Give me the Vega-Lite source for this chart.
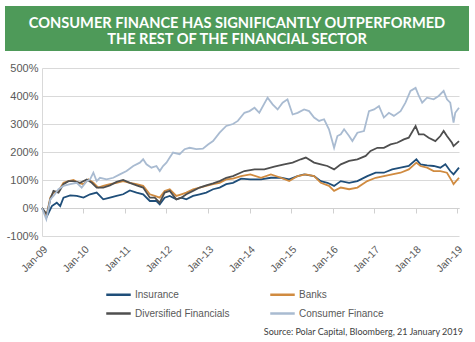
{
  "$schema": "https://vega.github.io/schema/vega-lite/v6.json",
  "background": "white",
  "padding": {"left": 5, "top": 6, "right": 6, "bottom": 2},
  "config": {
    "view": {"stroke": null},
    "font": "Liberation Sans"
  },
  "spacing": 11,
  "datasets": {
    "banner": [
      {"line": 1, "text": "CONSUMER FINANCE HAS SIGNIFICANTLY OUTPERFORMED"},
      {"line": 2, "text": "THE REST OF THE FINANCIAL SECTOR"}
    ],
    "series": [
      {"date": "2009-01-01", "series": "Insurance", "value": 0},
      {"date": "2009-02-14", "series": "Insurance", "value": -29},
      {"date": "2009-03-29", "series": "Insurance", "value": 7},
      {"date": "2009-05-11", "series": "Insurance", "value": 19},
      {"date": "2009-06-10", "series": "Insurance", "value": 7},
      {"date": "2009-07-09", "series": "Insurance", "value": 37},
      {"date": "2009-09-06", "series": "Insurance", "value": 45},
      {"date": "2009-11-03", "series": "Insurance", "value": 43},
      {"date": "2010-01-01", "series": "Insurance", "value": 37},
      {"date": "2010-02-28", "series": "Insurance", "value": 49},
      {"date": "2010-04-27", "series": "Insurance", "value": 55},
      {"date": "2010-06-24", "series": "Insurance", "value": 31},
      {"date": "2010-08-22", "series": "Insurance", "value": 37},
      {"date": "2010-10-19", "series": "Insurance", "value": 43},
      {"date": "2010-12-16", "series": "Insurance", "value": 49},
      {"date": "2011-02-13", "series": "Insurance", "value": 63},
      {"date": "2011-04-13", "series": "Insurance", "value": 55},
      {"date": "2011-06-10", "series": "Insurance", "value": 49},
      {"date": "2011-08-08", "series": "Insurance", "value": 25},
      {"date": "2011-10-05", "series": "Insurance", "value": 25},
      {"date": "2011-11-03", "series": "Insurance", "value": 13},
      {"date": "2011-12-16", "series": "Insurance", "value": 37},
      {"date": "2012-01-30", "series": "Insurance", "value": 43},
      {"date": "2012-03-28", "series": "Insurance", "value": 31},
      {"date": "2012-05-11", "series": "Insurance", "value": 37},
      {"date": "2012-06-24", "series": "Insurance", "value": 31},
      {"date": "2012-08-22", "series": "Insurance", "value": 43},
      {"date": "2012-10-19", "series": "Insurance", "value": 49},
      {"date": "2012-12-16", "series": "Insurance", "value": 55},
      {"date": "2013-02-14", "series": "Insurance", "value": 67},
      {"date": "2013-04-13", "series": "Insurance", "value": 73},
      {"date": "2013-06-10", "series": "Insurance", "value": 85},
      {"date": "2013-08-08", "series": "Insurance", "value": 90},
      {"date": "2013-10-19", "series": "Insurance", "value": 105},
      {"date": "2014-01-08", "series": "Insurance", "value": 102},
      {"date": "2014-04-12", "series": "Insurance", "value": 102},
      {"date": "2014-07-08", "series": "Insurance", "value": 108},
      {"date": "2014-10-04", "series": "Insurance", "value": 108},
      {"date": "2014-12-16", "series": "Insurance", "value": 102},
      {"date": "2015-02-28", "series": "Insurance", "value": 114},
      {"date": "2015-04-26", "series": "Insurance", "value": 120},
      {"date": "2015-07-23", "series": "Insurance", "value": 114},
      {"date": "2015-09-20", "series": "Insurance", "value": 96},
      {"date": "2015-11-17", "series": "Insurance", "value": 90},
      {"date": "2016-01-15", "series": "Insurance", "value": 79},
      {"date": "2016-03-14", "series": "Insurance", "value": 96},
      {"date": "2016-05-26", "series": "Insurance", "value": 90},
      {"date": "2016-08-07", "series": "Insurance", "value": 96},
      {"date": "2016-11-02", "series": "Insurance", "value": 114},
      {"date": "2017-01-15", "series": "Insurance", "value": 126},
      {"date": "2017-03-28", "series": "Insurance", "value": 126},
      {"date": "2017-06-09", "series": "Insurance", "value": 138},
      {"date": "2017-08-22", "series": "Insurance", "value": 144},
      {"date": "2017-11-02", "series": "Insurance", "value": 150},
      {"date": "2018-01-08", "series": "Insurance", "value": 174},
      {"date": "2018-02-13", "series": "Insurance", "value": 156},
      {"date": "2018-04-12", "series": "Insurance", "value": 152},
      {"date": "2018-06-09", "series": "Insurance", "value": 150},
      {"date": "2018-08-07", "series": "Insurance", "value": 144},
      {"date": "2018-09-20", "series": "Insurance", "value": 156},
      {"date": "2018-11-02", "series": "Insurance", "value": 132},
      {"date": "2018-12-01", "series": "Insurance", "value": 120},
      {"date": "2019-01-18", "series": "Insurance", "value": 144},

      {"date": "2009-01-01", "series": "Banks", "value": 0},
      {"date": "2009-02-08", "series": "Banks", "value": -29},
      {"date": "2009-03-15", "series": "Banks", "value": 37},
      {"date": "2009-04-12", "series": "Banks", "value": 55},
      {"date": "2009-05-26", "series": "Banks", "value": 61},
      {"date": "2009-07-09", "series": "Banks", "value": 90},
      {"date": "2009-08-22", "series": "Banks", "value": 96},
      {"date": "2009-10-05", "series": "Banks", "value": 100},
      {"date": "2009-11-17", "series": "Banks", "value": 90},
      {"date": "2010-01-01", "series": "Banks", "value": 85},
      {"date": "2010-02-14", "series": "Banks", "value": 102},
      {"date": "2010-03-29", "series": "Banks", "value": 90},
      {"date": "2010-05-11", "series": "Banks", "value": 73},
      {"date": "2010-06-24", "series": "Banks", "value": 79},
      {"date": "2010-08-22", "series": "Banks", "value": 85},
      {"date": "2010-10-19", "series": "Banks", "value": 90},
      {"date": "2010-12-16", "series": "Banks", "value": 96},
      {"date": "2011-02-13", "series": "Banks", "value": 90},
      {"date": "2011-04-13", "series": "Banks", "value": 85},
      {"date": "2011-06-10", "series": "Banks", "value": 79},
      {"date": "2011-08-08", "series": "Banks", "value": 49},
      {"date": "2011-09-20", "series": "Banks", "value": 43},
      {"date": "2011-11-03", "series": "Banks", "value": 37},
      {"date": "2011-12-16", "series": "Banks", "value": 61},
      {"date": "2012-01-30", "series": "Banks", "value": 67},
      {"date": "2012-03-28", "series": "Banks", "value": 43},
      {"date": "2012-05-11", "series": "Banks", "value": 49},
      {"date": "2012-06-24", "series": "Banks", "value": 55},
      {"date": "2012-08-22", "series": "Banks", "value": 67},
      {"date": "2012-10-19", "series": "Banks", "value": 73},
      {"date": "2012-12-16", "series": "Banks", "value": 79},
      {"date": "2013-02-14", "series": "Banks", "value": 85},
      {"date": "2013-04-13", "series": "Banks", "value": 90},
      {"date": "2013-06-10", "series": "Banks", "value": 102},
      {"date": "2013-08-08", "series": "Banks", "value": 105},
      {"date": "2013-10-19", "series": "Banks", "value": 114},
      {"date": "2014-01-08", "series": "Banks", "value": 120},
      {"date": "2014-04-12", "series": "Banks", "value": 108},
      {"date": "2014-07-08", "series": "Banks", "value": 120},
      {"date": "2014-10-04", "series": "Banks", "value": 108},
      {"date": "2014-12-16", "series": "Banks", "value": 96},
      {"date": "2015-02-28", "series": "Banks", "value": 114},
      {"date": "2015-05-11", "series": "Banks", "value": 120},
      {"date": "2015-07-23", "series": "Banks", "value": 114},
      {"date": "2015-09-20", "series": "Banks", "value": 90},
      {"date": "2015-12-01", "series": "Banks", "value": 79},
      {"date": "2016-01-15", "series": "Banks", "value": 61},
      {"date": "2016-03-14", "series": "Banks", "value": 73},
      {"date": "2016-05-26", "series": "Banks", "value": 67},
      {"date": "2016-08-07", "series": "Banks", "value": 73},
      {"date": "2016-11-02", "series": "Banks", "value": 96},
      {"date": "2017-01-15", "series": "Banks", "value": 108},
      {"date": "2017-03-28", "series": "Banks", "value": 114},
      {"date": "2017-06-09", "series": "Banks", "value": 120},
      {"date": "2017-08-22", "series": "Banks", "value": 126},
      {"date": "2017-11-02", "series": "Banks", "value": 138},
      {"date": "2018-01-08", "series": "Banks", "value": 162},
      {"date": "2018-02-13", "series": "Banks", "value": 150},
      {"date": "2018-04-12", "series": "Banks", "value": 144},
      {"date": "2018-06-09", "series": "Banks", "value": 132},
      {"date": "2018-08-07", "series": "Banks", "value": 132},
      {"date": "2018-10-04", "series": "Banks", "value": 126},
      {"date": "2018-11-17", "series": "Banks", "value": 96},
      {"date": "2018-12-01", "series": "Banks", "value": 85},
      {"date": "2019-01-18", "series": "Banks", "value": 108},

      {"date": "2009-01-01", "series": "Diversified Financials", "value": 0},
      {"date": "2009-02-14", "series": "Diversified Financials", "value": -23},
      {"date": "2009-03-15", "series": "Diversified Financials", "value": 31},
      {"date": "2009-04-12", "series": "Diversified Financials", "value": 61},
      {"date": "2009-05-26", "series": "Diversified Financials", "value": 55},
      {"date": "2009-07-09", "series": "Diversified Financials", "value": 85},
      {"date": "2009-08-22", "series": "Diversified Financials", "value": 96},
      {"date": "2009-10-05", "series": "Diversified Financials", "value": 96},
      {"date": "2009-12-02", "series": "Diversified Financials", "value": 90},
      {"date": "2010-01-30", "series": "Diversified Financials", "value": 102},
      {"date": "2010-03-15", "series": "Diversified Financials", "value": 90},
      {"date": "2010-04-27", "series": "Diversified Financials", "value": 73},
      {"date": "2010-06-24", "series": "Diversified Financials", "value": 73},
      {"date": "2010-08-22", "series": "Diversified Financials", "value": 81},
      {"date": "2010-10-19", "series": "Diversified Financials", "value": 93},
      {"date": "2010-12-16", "series": "Diversified Financials", "value": 100},
      {"date": "2011-02-13", "series": "Diversified Financials", "value": 90},
      {"date": "2011-04-13", "series": "Diversified Financials", "value": 81},
      {"date": "2011-06-10", "series": "Diversified Financials", "value": 73},
      {"date": "2011-08-08", "series": "Diversified Financials", "value": 37},
      {"date": "2011-09-20", "series": "Diversified Financials", "value": 37},
      {"date": "2011-11-03", "series": "Diversified Financials", "value": 19},
      {"date": "2011-12-16", "series": "Diversified Financials", "value": 55},
      {"date": "2012-01-30", "series": "Diversified Financials", "value": 61},
      {"date": "2012-03-28", "series": "Diversified Financials", "value": 31},
      {"date": "2012-05-11", "series": "Diversified Financials", "value": 37},
      {"date": "2012-06-24", "series": "Diversified Financials", "value": 49},
      {"date": "2012-08-22", "series": "Diversified Financials", "value": 61},
      {"date": "2012-10-19", "series": "Diversified Financials", "value": 73},
      {"date": "2012-12-16", "series": "Diversified Financials", "value": 81},
      {"date": "2013-02-14", "series": "Diversified Financials", "value": 88},
      {"date": "2013-04-13", "series": "Diversified Financials", "value": 96},
      {"date": "2013-06-10", "series": "Diversified Financials", "value": 108},
      {"date": "2013-08-08", "series": "Diversified Financials", "value": 114},
      {"date": "2013-11-17", "series": "Diversified Financials", "value": 132},
      {"date": "2014-02-14", "series": "Diversified Financials", "value": 138},
      {"date": "2014-05-11", "series": "Diversified Financials", "value": 138},
      {"date": "2014-08-07", "series": "Diversified Financials", "value": 148},
      {"date": "2014-11-02", "series": "Diversified Financials", "value": 156},
      {"date": "2015-01-15", "series": "Diversified Financials", "value": 162},
      {"date": "2015-03-28", "series": "Diversified Financials", "value": 174},
      {"date": "2015-05-11", "series": "Diversified Financials", "value": 180},
      {"date": "2015-07-23", "series": "Diversified Financials", "value": 162},
      {"date": "2015-09-20", "series": "Diversified Financials", "value": 156},
      {"date": "2015-11-17", "series": "Diversified Financials", "value": 150},
      {"date": "2016-01-15", "series": "Diversified Financials", "value": 138},
      {"date": "2016-03-14", "series": "Diversified Financials", "value": 156},
      {"date": "2016-05-26", "series": "Diversified Financials", "value": 168},
      {"date": "2016-08-07", "series": "Diversified Financials", "value": 174},
      {"date": "2016-10-19", "series": "Diversified Financials", "value": 186},
      {"date": "2016-12-01", "series": "Diversified Financials", "value": 204},
      {"date": "2017-01-30", "series": "Diversified Financials", "value": 215},
      {"date": "2017-03-28", "series": "Diversified Financials", "value": 215},
      {"date": "2017-05-26", "series": "Diversified Financials", "value": 227},
      {"date": "2017-07-23", "series": "Diversified Financials", "value": 233},
      {"date": "2017-09-20", "series": "Diversified Financials", "value": 245},
      {"date": "2017-11-02", "series": "Diversified Financials", "value": 251},
      {"date": "2018-01-01", "series": "Diversified Financials", "value": 293},
      {"date": "2018-01-30", "series": "Diversified Financials", "value": 263},
      {"date": "2018-03-14", "series": "Diversified Financials", "value": 263},
      {"date": "2018-04-26", "series": "Diversified Financials", "value": 251},
      {"date": "2018-06-24", "series": "Diversified Financials", "value": 239},
      {"date": "2018-08-07", "series": "Diversified Financials", "value": 257},
      {"date": "2018-09-05", "series": "Diversified Financials", "value": 275},
      {"date": "2018-10-04", "series": "Diversified Financials", "value": 257},
      {"date": "2018-11-17", "series": "Diversified Financials", "value": 233},
      {"date": "2018-12-01", "series": "Diversified Financials", "value": 221},
      {"date": "2019-01-18", "series": "Diversified Financials", "value": 239},

      {"date": "2009-01-01", "series": "Consumer Finance", "value": 0},
      {"date": "2009-02-08", "series": "Consumer Finance", "value": -40},
      {"date": "2009-03-15", "series": "Consumer Finance", "value": 31},
      {"date": "2009-04-12", "series": "Consumer Finance", "value": 43},
      {"date": "2009-05-26", "series": "Consumer Finance", "value": 67},
      {"date": "2009-07-09", "series": "Consumer Finance", "value": 79},
      {"date": "2009-09-06", "series": "Consumer Finance", "value": 85},
      {"date": "2009-11-03", "series": "Consumer Finance", "value": 90},
      {"date": "2009-12-16", "series": "Consumer Finance", "value": 73},
      {"date": "2010-01-30", "series": "Consumer Finance", "value": 96},
      {"date": "2010-02-28", "series": "Consumer Finance", "value": 102},
      {"date": "2010-03-29", "series": "Consumer Finance", "value": 126},
      {"date": "2010-04-27", "series": "Consumer Finance", "value": 96},
      {"date": "2010-05-26", "series": "Consumer Finance", "value": 108},
      {"date": "2010-07-23", "series": "Consumer Finance", "value": 102},
      {"date": "2010-09-20", "series": "Consumer Finance", "value": 108},
      {"date": "2010-11-17", "series": "Consumer Finance", "value": 120},
      {"date": "2011-01-15", "series": "Consumer Finance", "value": 132},
      {"date": "2011-03-15", "series": "Consumer Finance", "value": 150},
      {"date": "2011-05-12", "series": "Consumer Finance", "value": 162},
      {"date": "2011-06-10", "series": "Consumer Finance", "value": 174},
      {"date": "2011-07-09", "series": "Consumer Finance", "value": 156},
      {"date": "2011-08-22", "series": "Consumer Finance", "value": 144},
      {"date": "2011-10-05", "series": "Consumer Finance", "value": 150},
      {"date": "2011-11-03", "series": "Consumer Finance", "value": 132},
      {"date": "2011-12-02", "series": "Consumer Finance", "value": 150},
      {"date": "2012-01-01", "series": "Consumer Finance", "value": 162},
      {"date": "2012-01-30", "series": "Consumer Finance", "value": 180},
      {"date": "2012-02-28", "series": "Consumer Finance", "value": 198},
      {"date": "2012-04-26", "series": "Consumer Finance", "value": 192},
      {"date": "2012-06-09", "series": "Consumer Finance", "value": 210},
      {"date": "2012-07-23", "series": "Consumer Finance", "value": 215},
      {"date": "2012-09-20", "series": "Consumer Finance", "value": 210},
      {"date": "2012-11-17", "series": "Consumer Finance", "value": 212},
      {"date": "2013-01-01", "series": "Consumer Finance", "value": 227},
      {"date": "2013-02-14", "series": "Consumer Finance", "value": 239},
      {"date": "2013-04-13", "series": "Consumer Finance", "value": 269},
      {"date": "2013-06-10", "series": "Consumer Finance", "value": 293},
      {"date": "2013-08-08", "series": "Consumer Finance", "value": 300},
      {"date": "2013-09-20", "series": "Consumer Finance", "value": 311},
      {"date": "2013-11-17", "series": "Consumer Finance", "value": 340},
      {"date": "2014-01-01", "series": "Consumer Finance", "value": 346},
      {"date": "2014-02-14", "series": "Consumer Finance", "value": 358},
      {"date": "2014-03-28", "series": "Consumer Finance", "value": 340},
      {"date": "2014-06-09", "series": "Consumer Finance", "value": 394},
      {"date": "2014-07-23", "series": "Consumer Finance", "value": 370},
      {"date": "2014-09-05", "series": "Consumer Finance", "value": 352},
      {"date": "2014-10-19", "series": "Consumer Finance", "value": 376},
      {"date": "2014-12-01", "series": "Consumer Finance", "value": 388},
      {"date": "2015-01-15", "series": "Consumer Finance", "value": 334},
      {"date": "2015-02-28", "series": "Consumer Finance", "value": 340},
      {"date": "2015-04-26", "series": "Consumer Finance", "value": 352},
      {"date": "2015-06-09", "series": "Consumer Finance", "value": 346},
      {"date": "2015-07-23", "series": "Consumer Finance", "value": 323},
      {"date": "2015-09-05", "series": "Consumer Finance", "value": 311},
      {"date": "2015-10-19", "series": "Consumer Finance", "value": 317},
      {"date": "2015-12-01", "series": "Consumer Finance", "value": 281},
      {"date": "2016-01-15", "series": "Consumer Finance", "value": 215},
      {"date": "2016-02-13", "series": "Consumer Finance", "value": 257},
      {"date": "2016-03-14", "series": "Consumer Finance", "value": 263},
      {"date": "2016-04-12", "series": "Consumer Finance", "value": 281},
      {"date": "2016-05-26", "series": "Consumer Finance", "value": 257},
      {"date": "2016-06-24", "series": "Consumer Finance", "value": 239},
      {"date": "2016-08-07", "series": "Consumer Finance", "value": 269},
      {"date": "2016-10-04", "series": "Consumer Finance", "value": 275},
      {"date": "2016-11-17", "series": "Consumer Finance", "value": 346},
      {"date": "2017-01-01", "series": "Consumer Finance", "value": 352},
      {"date": "2017-02-13", "series": "Consumer Finance", "value": 364},
      {"date": "2017-03-28", "series": "Consumer Finance", "value": 323},
      {"date": "2017-05-11", "series": "Consumer Finance", "value": 340},
      {"date": "2017-06-24", "series": "Consumer Finance", "value": 329},
      {"date": "2017-08-22", "series": "Consumer Finance", "value": 346},
      {"date": "2017-10-04", "series": "Consumer Finance", "value": 376},
      {"date": "2017-11-17", "series": "Consumer Finance", "value": 418},
      {"date": "2018-01-01", "series": "Consumer Finance", "value": 429},
      {"date": "2018-01-30", "series": "Consumer Finance", "value": 400},
      {"date": "2018-02-28", "series": "Consumer Finance", "value": 376},
      {"date": "2018-04-12", "series": "Consumer Finance", "value": 394},
      {"date": "2018-06-09", "series": "Consumer Finance", "value": 388},
      {"date": "2018-07-23", "series": "Consumer Finance", "value": 400},
      {"date": "2018-09-05", "series": "Consumer Finance", "value": 418},
      {"date": "2018-10-04", "series": "Consumer Finance", "value": 388},
      {"date": "2018-11-02", "series": "Consumer Finance", "value": 376},
      {"date": "2018-12-01", "series": "Consumer Finance", "value": 305},
      {"date": "2018-12-16", "series": "Consumer Finance", "value": 340},
      {"date": "2019-01-18", "series": "Consumer Finance", "value": 358}
    ]
  },
  "vconcat": [
    {
      "width": 464,
      "height": 45,
      "data": {"name": "banner"},
      "layer": [
        {"mark": {"type": "rect", "color": "#4e9a59"}, "encoding": {}},
        {
          "mark": {"type": "text", "color": "white", "fontWeight": "bold", "fontSize": 14.6, "font": "Lato", "baseline": "middle", "align": "center"},
          "encoding": {
            "y": {"field": "line", "type": "ordinal", "axis": null, "scale": {"type": "point", "padding": 0.864, "align": 0.614}},
            "text": {"field": "text"}
          }
        }
      ]
    },
    {
      "spacing": 53,
      "vconcat": [
        {
          "spacing": 0,
          "hconcat": [
            {"width": 1, "height": 168, "data": {"values": []}, "mark": "point"},
            {
              "width": 417,
              "height": 168,
              "data": {"name": "series"},
              "mark": {"type": "line", "strokeWidth": 1.8},
              "encoding": {
                "x": {
                  "field": "date", "type": "temporal",
                  "scale": {"type": "utc", "domain": ["2009-01-01", "2019-01-18"]},
                  "axis": {"title": null, "format": "%b-%y", "tickCount": {"interval": "year", "step": 1}, "labelAngle": -45, "labelFontSize": 10.5, "labelColor": "#595959", "offset": -28, "domainColor": "#d0d0d0", "tickColor": "#d0d0d0", "tickSize": 5, "labelPadding": 31, "grid": false, "labelFlush": false, "labelOverlap": false}
                },
                "y": {
                  "field": "value", "type": "quantitative",
                  "scale": {"domain": [-100, 500], "nice": false},
                  "axis": {"title": null, "values": [-100, 0, 100, 200, 300, 400, 500], "labelExpr": "datum.value + '%'", "labelFontSize": 11, "labelColor": "#595959", "ticks": false, "domainColor": "#d9d9d9", "gridColor": "#d9d9d9", "labelPadding": 4}
                },
                "color": {
                  "field": "series", "type": "nominal",
                  "scale": {"domain": ["Insurance", "Banks", "Diversified Financials", "Consumer Finance"], "range": ["#1f4e79", "#d08b40", "#4f4f4f", "#a9bbd1"]},
                  "legend": {"title": null, "orient": "none", "legendX": 100, "legendY": 275, "direction": "horizontal", "padding": 0, "columns": 2, "symbolType": "stroke", "symbolSize": 600, "symbolStrokeWidth": 2.5, "labelFontSize": 10, "labelColor": "#595959", "labelOffset": 3, "columnPadding": 35, "rowPadding": 0}
                }
              }
            }
          ]
        },
        {
          "width": 458,
          "height": 1,
          "data": {"values": []},
          "mark": "point",
          "title": {"text": "Source: Polar Capital, Bloomberg, 21 January 2019", "orient": "top", "anchor": "end", "fontSize": 9, "fontWeight": "normal", "color": "#404040", "font": "Lato", "offset": 0}
        }
      ]
    }
  ]
}
